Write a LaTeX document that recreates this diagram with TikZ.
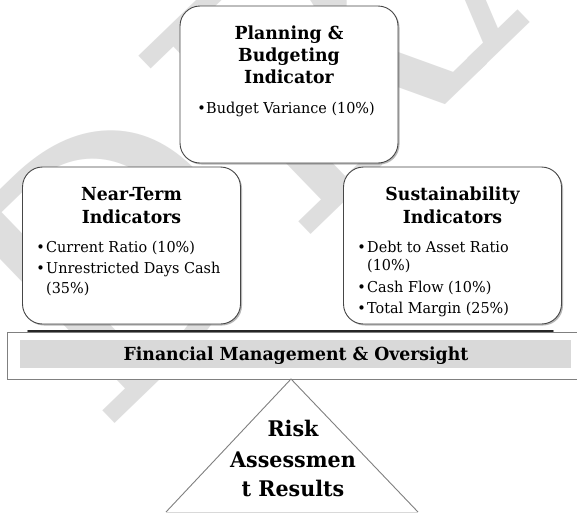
\documentclass[tikz,border=0pt]{standalone}
\usepackage{fontspec}
\setmainfont{DejaVu Serif}[FakeStretch=0.96]
\newfontfamily\wmfont{DejaVu Serif}
\usetikzlibrary{shadows}
\definecolor{wm}{RGB}{222,222,222}
\definecolor{bandgray}{RGB}{217,217,217}
\definecolor{edge}{RGB}{70,70,70}
\definecolor{lightedge}{RGB}{128,128,128}
\tikzset{
  card/.style={draw=edge, line width=0.9pt, fill=white, rounded corners=20pt,
    drop shadow={shadow xshift=1.5pt, shadow yshift=-1.5pt, opacity=0.4, fill=black!70},
    inner sep=0, minimum width=218pt, minimum height=157pt},
  ttl/.style={font=\fontsize{18}{21}\selectfont\bfseries, inner sep=0, anchor=base},
  itm/.style={font=\fontsize{15}{18}\selectfont, inner sep=0, anchor=base west},
  dotm/.style={font=\fontsize{15}{18}\selectfont, inner sep=0, anchor=base},
  big/.style={font=\fontsize{21.5}{25}\selectfont\bfseries, inner sep=0, anchor=base},
}
\begin{document}
\begin{tikzpicture}[x=1pt,y=-1pt]
\useasboundingbox (0,0) rectangle (577,512);
\begin{scope}
\clip (0,0) rectangle (577,512);
\fill[white] (0,0) rectangle (577,512);
% watermark
\node[text=wm, rotate=44, font=\wmfont\fontsize{340}{340}\selectfont, inner sep=0, anchor=base west] (wmk) at (101,437) {DRAFT};

% top box
\node[card] (top) at (289,84.5) {};
\node[ttl] (t1) at (289,39) {Planning \&};
\node[ttl] (t2) at (289,61) {Budgeting};
\node[ttl] (t3) at (289,83) {Indicator};
\node[dotm] (tb1) at (201.5,113) {•};
\node[itm] (ti1) at (206,113) {Budget Variance (10\%)};

% left box
\node[card] (left) at (131.5,245.5) {};
\node[ttl] (l1) at (131.5,200) {Near-Term};
\node[ttl] (l2) at (131.5,223) {Indicators};
\node[dotm] (lb1) at (40.5,252) {•};
\node[itm] (li1) at (46,252) {Current Ratio (10\%)};
\node[dotm] (lb2) at (40.5,273) {•};
\node[itm] (li2) at (46,273) {Unrestricted Days Cash};
\node[itm] (li3) at (46,293) {(35\%)};

% right box
\node[card] (right) at (452.5,245.5) {};
\node[ttl] (r1) at (452.5,200) {Sustainability};
\node[ttl] (r2) at (452.5,223) {Indicators};
\node[dotm] (rb1) at (361.5,252) {•};
\node[itm] (ri1) at (367,252) {Debt to Asset Ratio};
\node[itm] (ri2) at (367,270) {(10\%)};
\node[dotm] (rb2) at (361.5,292) {•};
\node[itm] (ri3) at (367,292) {Cash Flow (10\%)};
\node[dotm] (rb3) at (361.5,313) {•};
\node[itm] (ri4) at (367,313) {Total Margin (25\%)};

% band
\draw[black!85, line width=1.6pt, line cap=round] (28,331) -- (553,331);
\node[draw=lightedge, line width=0.9pt, fill=white, inner sep=0, minimum width=576pt, minimum height=47pt] (bandout) at (295,355.5) {};
\node[fill=bandgray, inner sep=0, minimum width=551pt, minimum height=28pt] (bandin) at (295.5,354) {};
\node[font=\fontsize{18}{21}\selectfont\bfseries, inner sep=0, anchor=base] (bt) at (296,360) {Financial Management \& Oversight};

% triangle
\coordinate (apex) at (291,379);
\coordinate (bl) at (166,512);
\coordinate (br) at (418,512);
\fill[white] (apex) -- (bl) -- (br) -- cycle;
\draw[lightedge, line width=0.9pt] (bl) -- (apex) -- (br);
\draw[black!15, line width=0.8pt] (bl) -- (br);
\node[big] (k1) at (293,436) {Risk};
\node[big] (k2) at (293,467) {Assessmen};
\node[big] (k3) at (293,496) {t Results};
\end{scope}
\end{tikzpicture}
\end{document}
